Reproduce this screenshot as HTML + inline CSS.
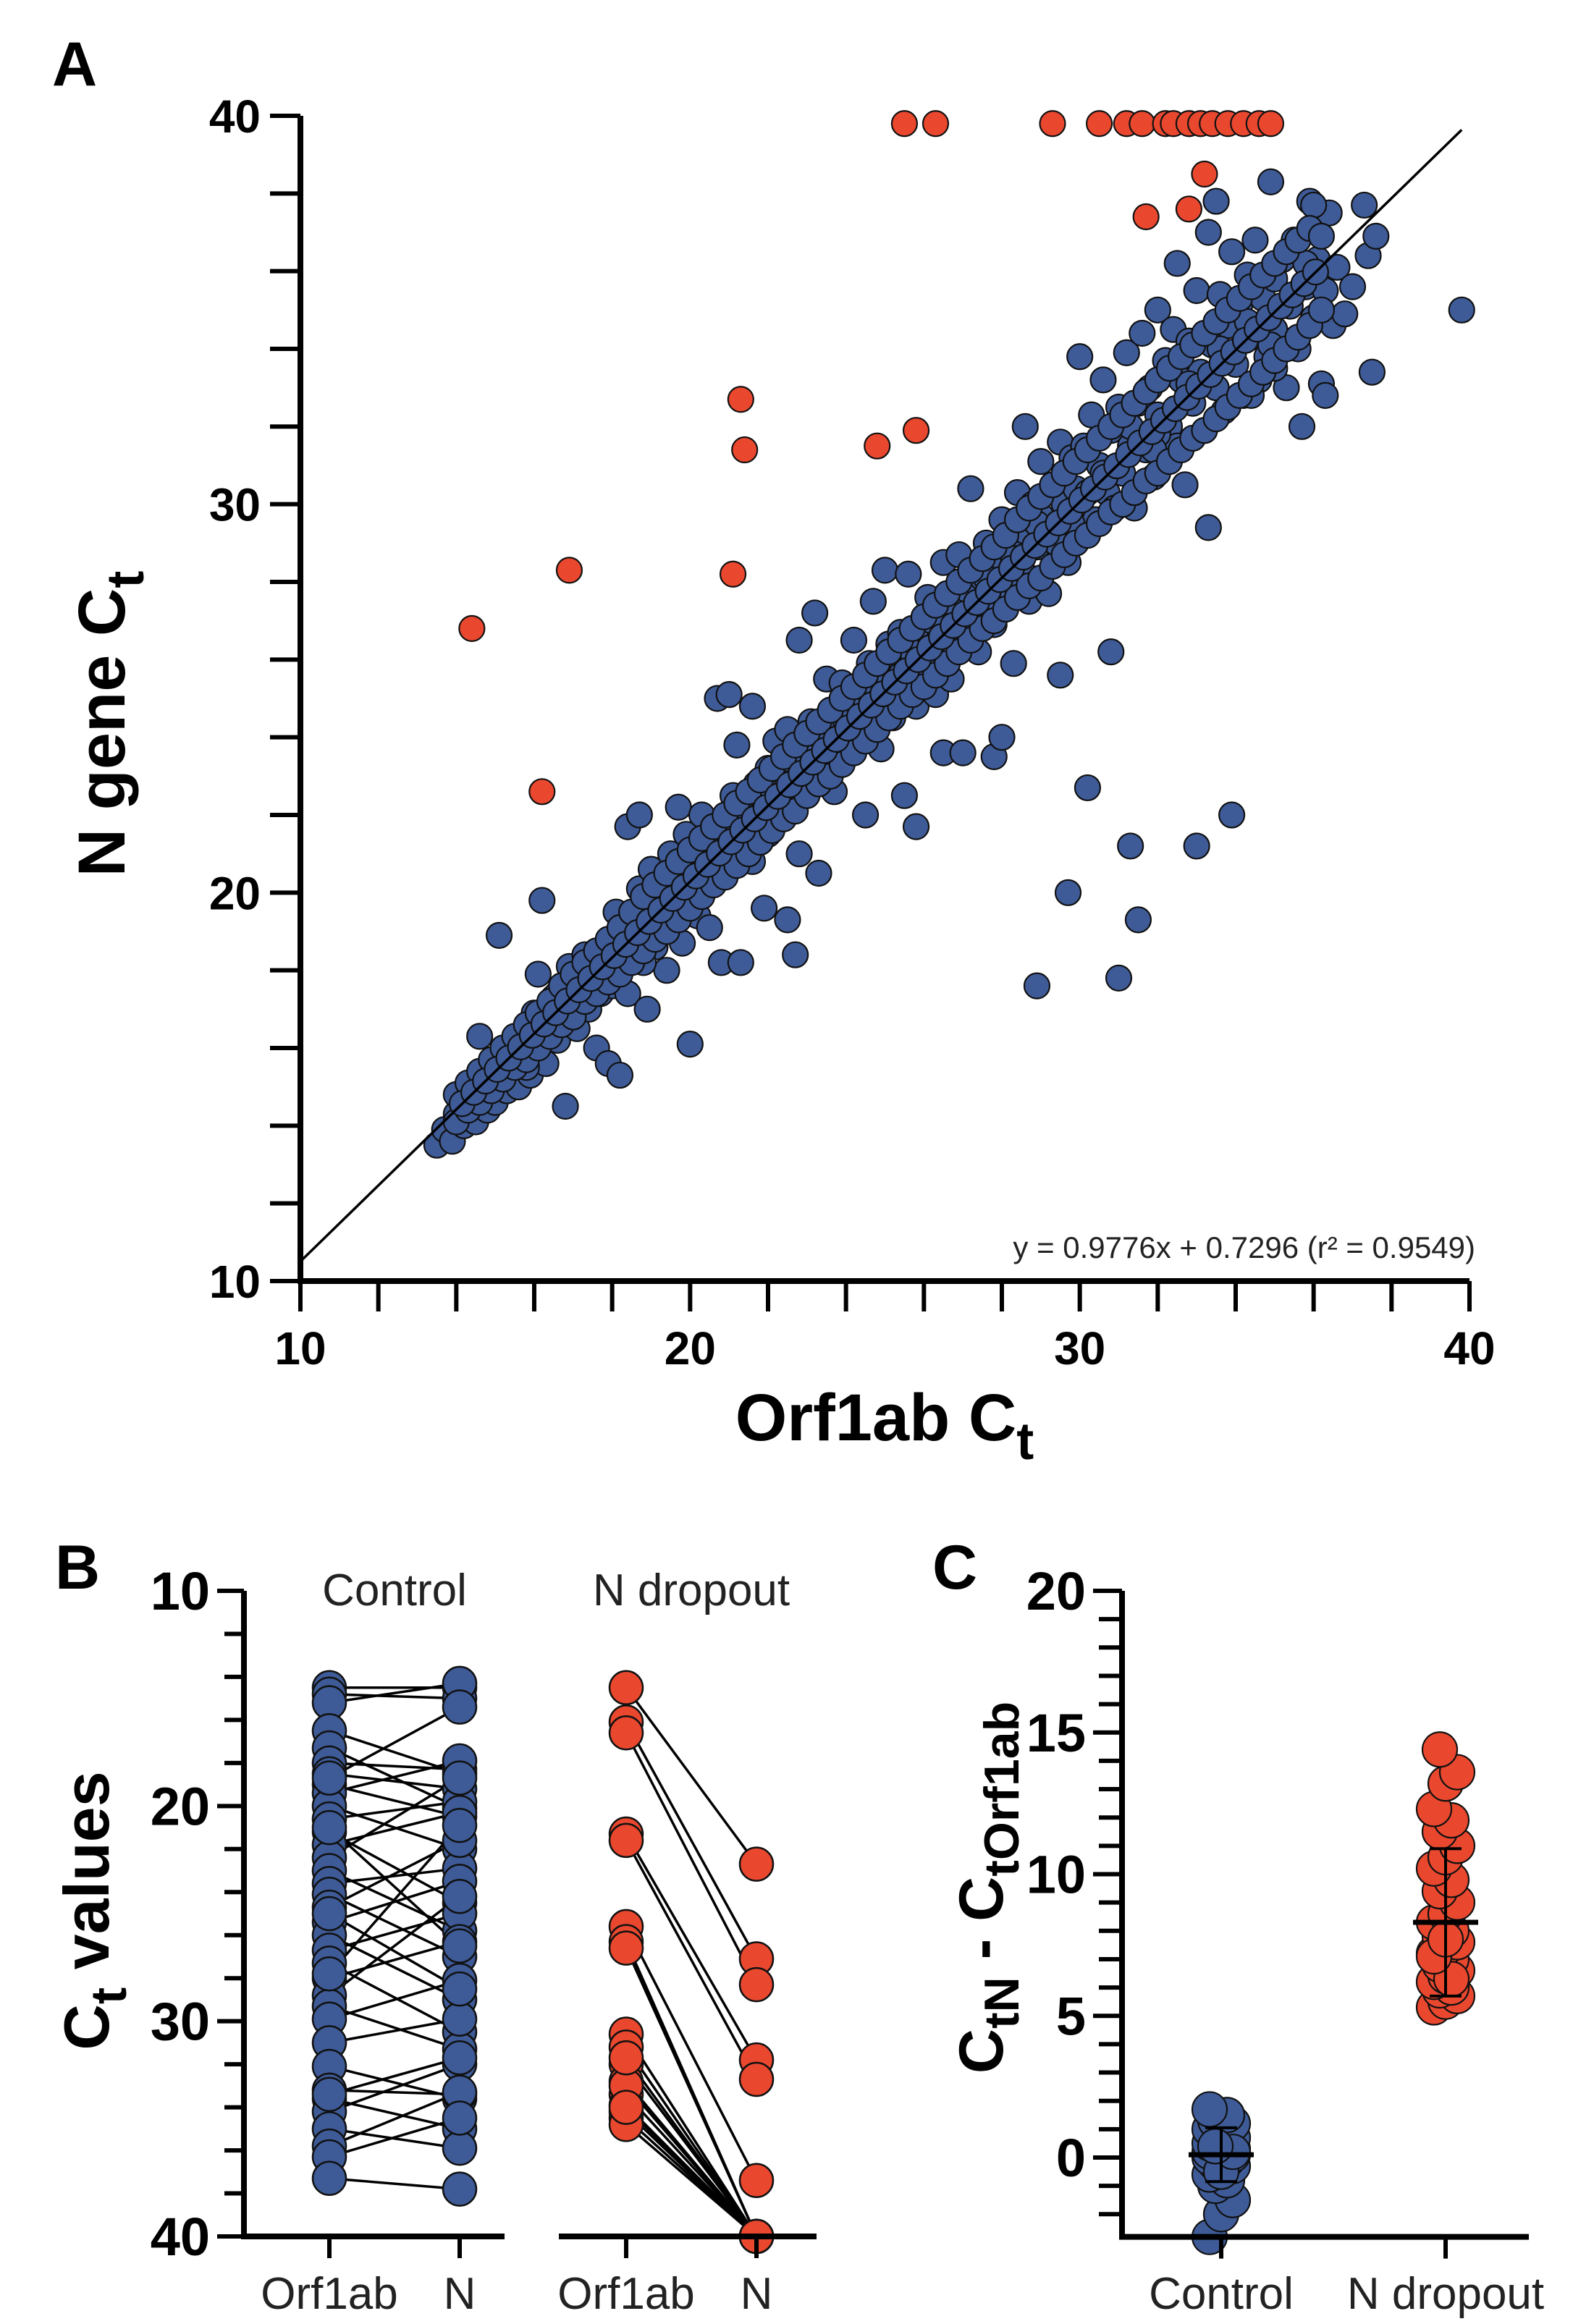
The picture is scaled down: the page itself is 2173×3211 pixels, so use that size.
<!DOCTYPE html>
<html><head><meta charset="utf-8"><style>
html,body{margin:0;padding:0;background:#fff;}
svg{display:block;font-family:"Liberation Sans",Arial,sans-serif;}
</style></head><body>
<svg id="fig" width="2173" height="3211" viewBox="0 0 2173 3211" xmlns="http://www.w3.org/2000/svg">
<g id="pa"></g>
<g id="pb"></g>
<g id="pc"></g>
</svg>
<script>
// ---------- Panel A data ----------
const bluePoints = [[13.5,13.5],[13.7,13.9],[13.9,13.6],[14.0,14.3],[14.2,14.0],[14.4,14.6],[14.5,14.1],[14.6,16.3],[14.7,14.9],[14.8,14.4],[15.0,15.3],[15.0,14.6],[15.1,18.9],[15.2,15.8],[15.3,14.9],[15.4,15.5],[15.5,16.1],[15.6,15.0],[15.7,15.7],[15.8,16.5],[15.9,15.3],[16.0,16.9],[16.0,15.9],[16.1,17.9],[16.2,16.4],[16.2,19.8],[16.3,15.6],[16.4,16.9],[16.5,17.3],[16.6,16.2],[16.7,17.6],[16.8,14.5],[16.8,16.8],[16.9,18.1],[17.0,17.2],[17.1,16.5],[17.2,17.7],[17.3,18.4],[17.4,17.0],[17.5,17.9],[17.6,16.0],[17.6,18.5],[17.7,17.4],[17.8,18.2],[17.9,15.6],[18.0,18.8],[18.0,17.6],[18.1,19.5],[18.2,18.1],[18.2,15.3],[18.3,18.9],[18.4,17.4],[18.4,21.7],[18.5,19.4],[18.6,18.5],[18.7,20.1],[18.7,22.0],[18.8,19.0],[18.9,17.0],[19.0,19.7],[19.0,20.6],[19.1,18.6],[19.2,19.3],[19.3,20.3],[19.4,18.0],[19.5,19.9],[19.5,21.0],[19.6,19.2],[19.7,22.2],[19.7,20.4],[19.8,18.7],[19.9,21.5],[20.0,20.0],[20.0,16.1],[20.1,20.8],[20.2,19.4],[20.3,21.3],[20.3,22.0],[20.4,20.5],[20.5,19.1],[20.6,21.7],[20.7,25.0],[20.7,20.9],[20.8,18.2],[20.9,21.9],[21.0,20.6],[21.0,25.1],[21.1,22.5],[21.2,21.2],[21.2,23.8],[21.3,18.2],[21.4,22.0],[21.5,21.5],[21.6,20.8],[21.6,24.8],[21.7,22.8],[21.8,22.0],[21.9,19.6],[22.0,23.2],[22.0,21.5],[22.1,22.4],[22.2,23.9],[22.3,21.9],[22.4,22.8],[22.5,19.3],[22.5,24.2],[22.6,22.3],[22.7,23.3],[22.7,18.4],[22.8,26.5],[22.8,21.0],[22.9,23.8],[23.0,22.8],[23.1,24.4],[23.2,23.3],[23.2,27.2],[23.3,20.5],[23.4,24.0],[23.5,23.0],[23.5,25.5],[23.6,24.6],[23.7,22.6],[23.8,24.2],[23.9,25.4],[24.0,23.6],[24.1,24.8],[24.2,26.5],[24.3,24.1],[24.4,25.3],[24.5,22.0],[24.5,24.5],[24.6,25.9],[24.7,27.5],[24.8,24.9],[24.9,23.7],[25.0,25.6],[25.0,28.3],[25.1,26.4],[25.2,24.5],[25.3,25.2],[25.4,26.7],[25.5,22.5],[25.5,25.7],[25.6,28.2],[25.7,26.2],[25.8,24.8],[25.8,21.7],[25.9,26.9],[26.0,25.9],[26.1,27.6],[26.2,26.3],[26.3,25.1],[26.4,27.0],[26.5,28.5],[26.5,23.6],[26.6,26.6],[26.7,25.5],[26.8,27.4],[26.9,28.7],[27.0,26.8],[27.0,23.6],[27.1,27.8],[27.2,30.4],[27.3,27.2],[27.4,26.2],[27.5,28.1],[27.6,29.0],[27.7,27.5],[27.8,23.5],[27.8,26.9],[27.9,28.5],[28.0,24.0],[28.0,29.6],[28.1,27.9],[28.2,28.9],[28.3,25.9],[28.4,30.3],[28.5,28.4],[28.6,32.0],[28.6,29.3],[28.7,27.5],[28.8,30.0],[28.9,28.9],[28.9,17.6],[29.0,31.1],[29.1,29.4],[29.2,27.7],[29.3,30.5],[29.4,29.0],[29.5,31.6],[29.5,25.6],[29.6,30.0],[29.7,28.5],[29.7,20.0],[29.8,31.2],[29.9,30.4],[30.0,29.2],[30.0,33.8],[30.1,31.5],[30.2,22.7],[30.2,30.3],[30.3,32.3],[30.4,29.6],[30.5,31.0],[30.6,33.2],[30.7,30.3],[30.8,26.2],[30.8,31.9],[30.9,29.9],[31.0,17.8],[31.0,32.5],[31.1,30.8],[31.2,33.9],[31.3,31.5],[31.3,21.2],[31.4,29.9],[31.5,32.6],[31.5,19.3],[31.6,34.4],[31.7,31.4],[31.8,33.0],[31.9,30.7],[32.0,32.3],[32.0,35.0],[32.1,31.2],[32.2,33.7],[32.3,32.0],[32.4,34.5],[32.5,31.5],[32.5,36.2],[32.6,33.2],[32.7,30.5],[32.8,34.2],[32.9,32.6],[33.0,21.2],[33.0,35.5],[33.1,33.4],[33.2,31.9],[33.3,37.0],[33.3,29.4],[33.4,34.1],[33.5,33.0],[33.5,37.8],[33.6,35.4],[33.7,32.4],[33.8,34.6],[33.9,22.0],[33.9,36.5],[34.0,33.6],[34.1,35.1],[34.2,32.8],[34.3,35.9],[34.4,34.3],[34.5,36.8],[34.6,33.2],[34.7,35.3],[34.8,33.8],[34.9,38.3],[35.0,35.8],[35.1,34.3],[35.2,36.3],[35.3,33.0],[35.4,35.1],[35.5,36.8],[35.6,34.0],[35.7,32.0],[35.8,35.6],[35.9,37.8],[36.0,34.8],[36.1,36.3],[36.2,33.1],[36.3,35.5],[36.4,37.5],[36.5,34.6],[36.6,36.1],[36.8,34.9],[37.0,35.6],[37.3,37.7],[37.4,36.4],[37.6,36.9],[37.5,33.4],[39.8,35.0],[36.0,37.7],[34.4,32.8],[35.0,33.5],[36.3,32.8],[14.1,14.8],[14.9,15.6],[15.8,15.5],[16.6,17.4],[17.3,17.5],[18.0,18.3],[18.8,18.2],[19.4,19.9],[20.2,20.6],[21.0,21.3],[21.8,21.3],[22.5,22.8],[23.2,23.9],[24.0,24.4],[24.7,24.6],[25.4,25.6],[26.2,27.0],[26.9,26.4],[27.6,28.1],[28.3,28.6],[29.0,29.7],[29.8,29.5],[30.6,30.8],[31.3,32.0],[32.0,31.8],[32.8,33.1],[33.6,34.0],[34.3,34.7],[35.0,34.5],[35.8,36.2],[16.9,17.0],[19.9,19.6],[22.9,22.6],[25.9,25.5],[28.9,29.5],[31.9,31.4],[34.9,34.1]];
const bandPoints = [[14.0,14.8],[14.0,14.1],[14.3,14.4],[14.3,15.1],[14.6,15.4],[14.6,14.6],[14.9,14.9],[14.9,15.7],[15.2,16.0],[15.2,15.2],[15.5,15.5],[15.5,16.3],[15.8,16.6],[15.8,15.7],[16.1,16.0],[16.1,16.9],[16.4,17.2],[16.4,16.3],[16.7,16.6],[16.7,17.6],[17.0,17.9],[17.0,16.8],[17.3,17.2],[17.3,18.2],[17.6,18.5],[17.6,17.4],[17.9,17.7],[17.9,18.8],[18.2,19.1],[18.2,17.9],[18.5,18.2],[18.5,19.5],[18.8,19.9],[18.8,18.5],[19.1,18.8],[19.1,20.2],[19.4,20.5],[19.4,19.0],[19.7,19.3],[19.7,20.8],[20.0,21.1],[20.0,19.6],[20.3,19.9],[20.3,21.4],[20.6,21.7],[20.6,20.2],[20.9,20.4],[20.9,22.0],[21.2,22.3],[21.2,20.7],[21.5,21.0],[21.5,22.6],[21.8,22.9],[21.8,21.3],[22.1,21.6],[22.1,23.2],[22.4,23.5],[22.4,21.9],[22.7,22.1],[22.7,23.8],[23.0,24.1],[23.0,22.5],[23.3,22.8],[23.3,24.4],[23.6,24.7],[23.6,23.0],[23.9,23.3],[23.9,25.0],[24.2,25.3],[24.2,23.6],[24.5,23.9],[24.5,25.6],[24.8,25.9],[24.8,24.2],[25.1,24.5],[25.1,26.2],[25.4,26.5],[25.4,24.8],[25.7,25.1],[25.7,26.8],[26.0,27.1],[26.0,25.3],[26.3,25.6],[26.3,27.4],[26.6,27.7],[26.6,25.9],[26.9,26.2],[26.9,28.0],[27.2,28.3],[27.2,26.5],[27.5,26.8],[27.5,28.6],[27.8,28.9],[27.8,27.0],[28.1,27.3],[28.1,29.2],[28.4,29.6],[28.4,27.6],[28.7,27.9],[28.7,29.9],[29.0,30.2],[29.0,28.1],[29.3,28.4],[29.3,30.5],[29.6,30.8],[29.6,28.7],[29.9,29.0],[29.9,31.1],[30.2,31.4],[30.2,29.2],[30.5,29.5],[30.5,31.7],[30.8,32.0],[30.8,29.8],[31.1,30.0],[31.1,32.3],[31.4,32.6],[31.4,30.3],[31.7,30.6],[31.7,32.9],[32.0,33.2],[32.0,30.8],[32.3,31.1],[32.3,33.5],[32.6,33.8],[32.6,31.4],[32.9,31.7],[32.9,34.1],[33.2,34.4],[33.2,31.9],[33.5,32.2],[33.5,34.7],[33.8,35.0],[33.8,32.5],[34.1,32.8],[34.1,35.3],[34.4,35.6],[34.4,33.1],[34.7,33.4],[34.7,35.9],[35.0,36.2],[35.0,33.7],[35.3,34.0],[35.3,36.5],[35.6,36.8],[35.6,34.3],[35.9,34.6],[35.9,37.1],[36.2,36.9],[36.2,35.0],
[14.15,14.57],[14.45,14.86],[14.75,15.15],[15.05,15.45],[15.35,15.74],[15.65,16.03],[15.95,16.33],[16.25,16.62],[16.55,16.91],[16.85,17.21],[17.15,17.50],[17.45,17.79],[17.75,18.09],[18.05,18.38],[18.35,18.67],[18.65,18.97],[18.95,19.26],[19.25,19.55],[19.55,19.85],[19.85,20.14],[20.15,20.43],[20.45,20.73],[20.75,21.02],[21.05,21.31],[21.35,21.61],[21.65,21.90],[21.95,22.19],[22.25,22.48],[22.55,22.78],[22.85,23.07],[23.15,23.36],[23.45,23.66],[23.75,23.95],[24.05,24.24],[24.35,24.54],[24.65,24.83],[24.95,25.12],[25.25,25.42],[25.55,25.71],[25.85,26.00],[26.15,26.30],[26.45,26.59],[26.75,26.88],[27.05,27.18],[27.35,27.47],[27.65,27.76],[27.95,28.06],[28.25,28.35],[28.55,28.64],[28.85,28.94],[29.15,29.23],[29.45,29.52],[29.75,29.82],[30.05,30.11],[30.35,30.40],[30.65,30.70],[30.95,30.99],[31.25,31.28],[31.55,31.58],[31.85,31.87],[32.15,32.16],[32.45,32.46],[32.75,32.75],[33.05,33.04],[33.35,33.34],[33.65,33.63],[33.95,33.92],[34.25,34.22],[34.55,34.51],[34.85,34.80],[35.15,35.10],[35.45,35.39],[35.75,35.68],[36.05,35.98]];
const redPoints = [[25.5,39.8],[26.3,39.8],[29.3,39.8],[30.5,39.8],[31.2,39.8],[31.6,39.8],[32.2,39.8],[32.4,39.8],[32.8,39.8],[33.1,39.8],[33.4,39.8],[33.8,39.8],[34.2,39.8],[34.6,39.8],[34.9,39.8],[33.2,38.5],[32.8,37.6],[31.7,37.4],[21.3,32.7],[21.4,31.4],[24.8,31.5],[25.8,31.9],[16.9,28.3],[21.1,28.2],[14.4,26.8],[16.2,22.6]];
const fitSlope = 0.9776;
const fitIntercept = 0.7296;
const axisTicksA = [10,20,30,40];

// ---------- Panel B data ----------
const ctrlOrf = [14.5,14.8,15.2,16.5,17.3,18.0,18.5,19.0,19.4,20.0,20.6,21.2,21.8,22.4,23.0,23.6,24.1,24.7,25.4,26.0,26.7,27.3,28.0,28.8,29.3,29.9,31.0,32.1,33.2,33.6,34.2,35.0,35.8,36.3,37.3,18.7,21.0,25.0,27.8,33.4];
const ctrlN   = [14.5,15.0,14.3,18.5,20.1,18.3,19.2,20.5,17.9,22.0,19.8,24.5,20.3,18.7,25.8,22.9,27.0,21.6,23.5,29.0,25.0,30.5,26.3,24.2,31.3,28.1,29.9,33.6,33.4,35.0,32.0,35.9,33.3,34.5,37.8,15.4,26.5,28.5,20.9,31.7];
const dropOrf = [14.5,16.1,16.6,21.3,21.6,25.6,26.3,26.6,30.6,31.2,32.0,32.8,33.4,33.9,34.2,34.5,34.8,33.0,31.7,34.0];
const dropN   = [22.7,27.1,28.3,31.8,32.7,37.4,40,40,40,40,40,40,40,40,40,40,40,40,40,40];
const ticksB = [10,20,30,40];

// ---------- Panel C data ----------
const diffCtrl = [-2.8,-2.0,-1.5,-1.0,-0.8,-0.6,-0.4,-0.3,-0.2,-0.1,0.0,0.0,0.1,0.1,0.2,0.2,0.3,0.3,0.4,0.5,0.5,0.6,0.7,0.8,0.9,1.0,1.1,1.2,1.3,1.5,1.7,-0.5,0.2,0.4];
const diffDrop = [5.3,5.5,5.7,5.9,6.0,6.2,6.4,6.6,6.8,7.0,7.2,7.4,7.6,7.8,8.0,8.3,8.6,9.0,9.4,9.8,10.2,10.6,11.0,11.5,11.9,12.3,13.2,13.6,14.4,6.3,7.1,7.7];
const meanC = [0.1, 8.3];
const sdC = [0.95, 2.6];
const ticksC = [0,5,10,15,20];

const NS = 'http://www.w3.org/2000/svg';
function mk(tag, attrs, parent){
  const e = document.createElementNS(NS, tag);
  for (const k in attrs) e.setAttribute(k, attrs[k]);
  parent.appendChild(e);
  return e;
}
const BLUE = '#3e5b97', RED = '#e9482f', STROKE = '#111';

// ===== Panel A =====
(function(){
  const g = document.getElementById('pa');
  const X = v => 415 + (v - 10) * (2030 - 415) / 30;
  const Y = v => 1770 - (v - 10) * (1770 - 160) / 30;
  let t = mk('text', {x:72, y:118, 'font-size':86, 'font-weight':'bold'}, g);
  t.textContent = 'A';
  
  
  const pg = mk('g', {}, g);
  
  
  bluePoints.concat(bandPoints).forEach(p => {
    const c = mk('circle', {cx:X(p[0]), cy:Y(p[1]), r:17.5, fill:BLUE, stroke:STROKE, 'stroke-width':2.2}, pg);
    
    
  });
  redPoints.forEach(p => {
    const c = mk('circle', {cx:X(p[0]), cy:Y(p[1]), r:17.5, fill:RED, stroke:STROKE, 'stroke-width':2.2}, pg);
    
    
  });
  const l = mk('line', {x1:X(10), y1:Y(fitSlope*10+fitIntercept), x2:X(39.8), y2:Y(fitSlope*39.8+fitIntercept), stroke:'#000', 'stroke-width':3.5}, g);
  
  
  const ax = mk('path', {d:`M${X(10)} ${Y(40)} V${Y(10)} H${X(40)}`, fill:'none', stroke:'#000', 'stroke-width':8}, g);
  
  
  for (let v = 10; v <= 40; v += 2) {
    mk('line', {x1:X(10)-42, y1:Y(v), x2:X(10), y2:Y(v), stroke:'#000', 'stroke-width':6}, g);
    mk('line', {x1:X(v), y1:Y(10), x2:X(v), y2:Y(10)+42, stroke:'#000', 'stroke-width':6}, g);
  }
  axisTicksA.forEach(v => {
    const ty = mk('text', {x:X(10)-55, y:Y(v)+23, 'font-size':64, 'font-weight':'bold', 'text-anchor':'end'}, g);
    ty.textContent = v;
    
    
    const tx = mk('text', {x:X(v), y:Y(10)+115, 'font-size':64, 'font-weight':'bold', 'text-anchor':'middle'}, g);
    tx.textContent = v;
    
    
  });
  const xt = mk('text', {x:1222, y:1990, 'font-size':92, 'font-weight':'bold', 'text-anchor':'middle'}, g);
  xt.innerHTML = 'Orf1ab C<tspan font-size="72" dy="26">t</tspan>';
  
  
  const yt = mk('text', {x:0, y:0, 'font-size':92, 'font-weight':'bold', 'text-anchor':'middle', transform:'translate(172,1000) rotate(-90)'}, g);
  yt.innerHTML = 'N gene C<tspan font-size="72" dy="26">t</tspan>';
  
  
  const eq = mk('text', {x:2038, y:1738, 'font-size':42, 'text-anchor':'end', fill:'#222'}, g);
  eq.textContent = 'y = 0.9776x + 0.7296 (r² = 0.9549)';
  
  
})();

// ===== Panel B =====
(function(){
  const g = document.getElementById('pb');
  const Y = v => 2198 + (v - 10) * (3090 - 2198) / 30;
  const xs = [455, 635, 865, 1045];
  let t = mk('text', {x:76, y:2195, 'font-size':86, 'font-weight':'bold'}, g);
  t.textContent = 'B';
  
  
  function pairs(orf, n, xa, xb, col, nm){
    const lg = mk('g', {}, g);
    
    
    orf.forEach((v,i) => mk('line', {x1:xa, y1:Y(v), x2:xb, y2:Y(n[i]), stroke:'#000', 'stroke-width':3.5}, lg));
    orf.forEach(v => {
      const c = mk('circle', {cx:xa, cy:Y(v), r:23, fill:col, stroke:STROKE, 'stroke-width':2.5}, g);
      
      
    });
    n.forEach(v => {
      const c = mk('circle', {cx:xb, cy:Y(v), r:23, fill:col, stroke:STROKE, 'stroke-width':2.5}, g);
      
      
    });
  }
  pairs(ctrlOrf, ctrlN, xs[0], xs[1], BLUE, 'control');
  pairs(dropOrf, dropN, xs[2], xs[3], RED, 'dropout');
  const ax = mk('path', {d:`M337 ${Y(10)} V${Y(40)} H697 M772 ${Y(40)} H1128`, fill:'none', stroke:'#000', 'stroke-width':8}, g);
  
  
  for (let v = 10; v <= 40; v += 2) mk('line', {x1:(v % 10 === 0 ? 300 : 310), y1:Y(v), x2:337, y2:Y(v), stroke:'#000', 'stroke-width':6}, g);
  xs.forEach(x => mk('line', {x1:x, y1:Y(40), x2:x, y2:Y(40)+30, stroke:'#000', 'stroke-width':6}, g));
  ticksB.forEach(v => {
    const ty = mk('text', {x:290, y:Y(v)+26, 'font-size':74, 'font-weight':'bold', 'text-anchor':'end'}, g);
    ty.textContent = v;
    
    
  });
  const labs = ['Orf1ab','N','Orf1ab','N'];
  labs.forEach((s,i) => {
    const tx = mk('text', {x:xs[i], y:3190, 'font-size':62, 'text-anchor':'middle', fill:'#222'}, g);
    tx.textContent = s;
    
    
  });
  const t1 = mk('text', {x:545, y:2218, 'font-size':62, 'text-anchor':'middle', fill:'#222'}, g);
  t1.textContent = 'Control';
  
  
  const t2 = mk('text', {x:955, y:2218, 'font-size':62, 'text-anchor':'middle', fill:'#222'}, g);
  t2.textContent = 'N dropout';
  
  
  const yt = mk('text', {x:0, y:0, 'font-size':88, 'font-weight':'bold', 'text-anchor':'middle', transform:'translate(150,2640) rotate(-90)'}, g);
  yt.innerHTML = 'C<tspan font-size="70" dy="24">t</tspan><tspan dy="-24"> values</tspan>';
  
  
})();

// ===== Panel C =====
(function(){
  const g = document.getElementById('pc');
  const Y = v => 2198 + (20 - v) * (2981 - 2198) / 20;
  const ax0 = 1550, xs = [1687, 1997];
  let t = mk('text', {x:1288, y:2195, 'font-size':86, 'font-weight':'bold'}, g);
  t.textContent = 'C';
  
  
  function dots(arr, x0, col, nm){
    arr.forEach((v,i) => {
      const dx = ((i * 7) % 5 - 2) * 8;
      const c = mk('circle', {cx:x0+dx, cy:Y(v), r:24, fill:col, stroke:STROKE, 'stroke-width':2.2}, g);
      
      
    });
  }
  dots(diffCtrl, xs[0], BLUE, 'control');
  dots(diffDrop, xs[1], RED, 'dropout');
  meanC.forEach((m,i) => {
    const x = xs[i];
    const eg = mk('g', {stroke:'#000'}, g);
    
    
    mk('line', {x1:x-45, y1:Y(m), x2:x+45, y2:Y(m), 'stroke-width':7}, eg);
    mk('line', {x1:x, y1:Y(m-sdC[i]), x2:x, y2:Y(m+sdC[i]), 'stroke-width':4}, eg);
    mk('line', {x1:x-22, y1:Y(m+sdC[i]), x2:x+22, y2:Y(m+sdC[i]), 'stroke-width':4}, eg);
    mk('line', {x1:x-22, y1:Y(m-sdC[i]), x2:x+22, y2:Y(m-sdC[i]), 'stroke-width':4}, eg);
  });
  const ax = mk('path', {d:`M${ax0} ${Y(20)} V${Y(-2.8)} H2112`, fill:'none', stroke:'#000', 'stroke-width':8}, g);
  
  
  for (let v = -2; v <= 20; v += 1) mk('line', {x1:(v % 5 === 0 ? ax0-40 : ax0-32), y1:Y(v), x2:ax0, y2:Y(v), stroke:'#000', 'stroke-width':6}, g);
  xs.forEach(x => mk('line', {x1:x, y1:Y(-2.8), x2:x, y2:Y(-2.8)+30, stroke:'#000', 'stroke-width':6}, g));
  ticksC.forEach(v => {
    const ty = mk('text', {x:ax0-50, y:Y(v)+26, 'font-size':74, 'font-weight':'bold', 'text-anchor':'end'}, g);
    ty.textContent = v;
    
    
  });
  ['Control','N dropout'].forEach((s,i) => {
    const tx = mk('text', {x:xs[i], y:3190, 'font-size':62, 'text-anchor':'middle', fill:'#222'}, g);
    tx.textContent = s;
    
    
  });
  const yt = mk('text', {x:0, y:0, 'font-size':86, 'font-weight':'bold', 'text-anchor':'middle', transform:'translate(1385,2608) rotate(-90)'}, g);
  yt.innerHTML = 'C<tspan font-size="68" dy="22">tN</tspan><tspan dy="-22"> - C</tspan><tspan font-size="68" dy="22">tOrf1ab</tspan>';
  
  
})();
</script>
</body></html>
